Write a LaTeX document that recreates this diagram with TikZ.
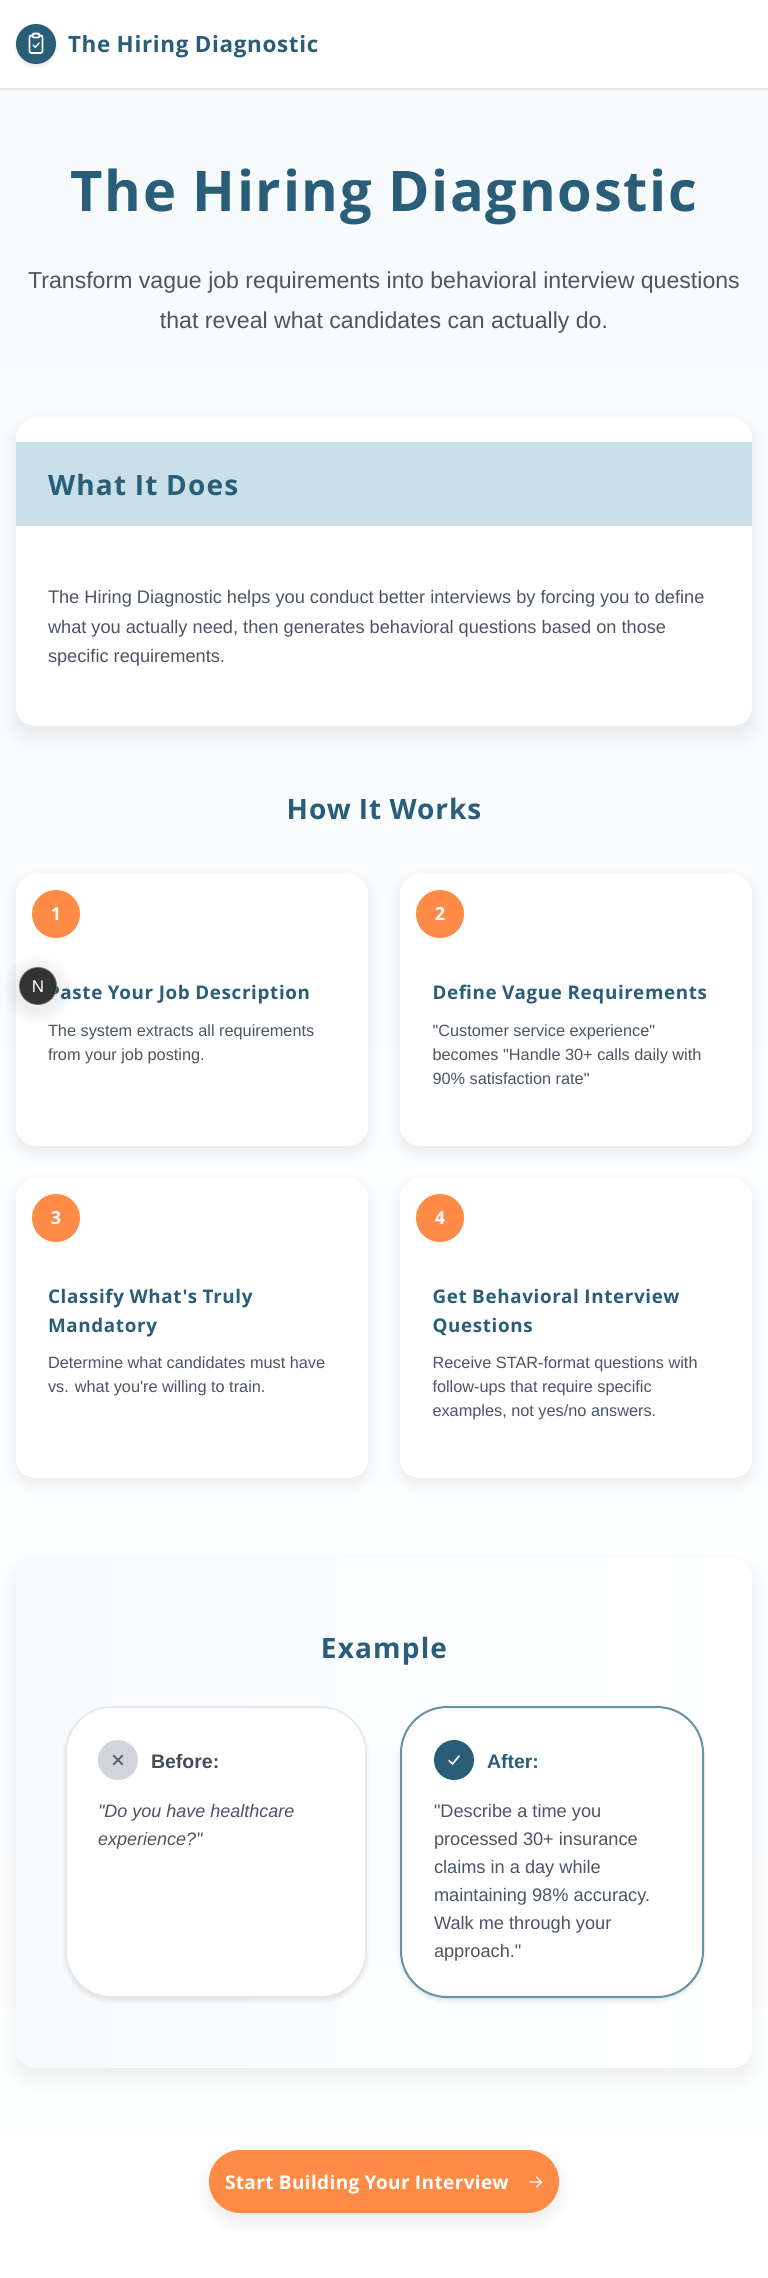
\documentclass[tikz,border=0pt]{standalone}
\usepackage{fontspec}
\setmainfont{Liberation Sans}[Ligatures=TeXOff]
\newfontfamily\hfont{Open Sans}[Ligatures=TeXOff]
\usetikzlibrary{arrows.meta}
\definecolor{teal}{HTML}{2A5D78}
\definecolor{orangeb}{HTML}{FF8B47}
\definecolor{band}{HTML}{C9E0E8}
\definecolor{bodyt}{HTML}{4B5563}
\definecolor{pagebg}{HTML}{F7FBFE}
\definecolor{iconbg}{HTML}{D1D5DB}
\definecolor{softline}{HTML}{E5E7EB}
\definecolor{afterline}{HTML}{6494A8}
\newcommand{\softshadow}[8]{% x1 y1 x2 y2 r dy blur opacity
  \foreach \k in {0,...,9}{
    \pgfmathsetmacro{\e}{#7*(1-\k/4.5)}
    \pgfmathsetmacro{\rr}{max(#5+\e,1)}
    \fill[black,opacity=#8,rounded corners=\rr pt] ({#1-\e},{#2+#6-\e}) rectangle ({#3+\e},{#4+#6+\e});
  }}
\newcommand{\fs}[1]{\fontsize{#1}{#1}\selectfont}
\tikzset{
  txt/.style={inner sep=0pt,outer sep=0pt,anchor=base west},
  ctxt/.style={inner sep=0pt,outer sep=0pt,anchor=base},
  head/.style={txt,text=teal,font=\hfont\bfseries\fs{18.8}\addfontfeature{LetterSpace=3.5}},
  desc/.style={txt,text=bodyt,font=\fs{16.3}},
  big/.style={txt,text=bodyt,font=\fs{18.2}},
  card/.style={fill=white,rounded corners=20pt},
  num/.style={ctxt,text=white,font=\hfont\bfseries\fs{18}},
  ring/.style={fill=orangeb}
}
\begin{document}
\begin{tikzpicture}[x=1pt,y=-1pt]
\useasboundingbox (0,0) rectangle (768,2278);
% page background
\fill[white] (0,0) rectangle (768,2278);
\shade[top color=pagebg,bottom color=white] (0,88) rectangle (768,2278);
% top bar
\foreach \k in {0,...,5}{\fill[black,opacity=0.02] (0,88) rectangle (768,{88+\k*0.7});}
\fill[white] (0,0) rectangle (768,88);
\softshadow{16}{24}{56}{64}{20}{2}{3}{0.012}
\fill[teal] (36,44) circle[radius=20pt];
% clipboard icon
\draw[white,line width=1.7pt,rounded corners=2pt] (31,35.5) -- (29.5,35.5) -- (29.5,53) -- (42.5,53) -- (42.5,35.5) -- (41,35.5);
\draw[white,line width=1.7pt,rounded corners=1pt] (32.5,33.5) rectangle (39.5,37.5);
\draw[white,line width=1.4pt,line cap=round,line join=round] (33,45) -- (35.2,47.2) -- (39.2,43);
\node[txt,text=teal,font=\hfont\bfseries\fs{22.4}\addfontfeature{LetterSpace=3}] (brand) at (68,52) {The Hiring Diagnostic};
% hero
\node[ctxt,text=teal,font=\hfont\bfseries\fs{56}\addfontfeature{LetterSpace=3.1}] (h1) at (384,211) {The Hiring Diagnostic};
\node[ctxt,text=bodyt,font=\fs{23.1}] (sub1) at (384,288) {Transform vague job requirements into behavioral interview questions};
\node[ctxt,text=bodyt,font=\fs{23.1}] (sub2) at (384,328) {that reveal what candidates can actually do.};
% what it does
\softshadow{16}{418}{752}{726}{20}{10}{14}{0.009}
\fill[card] (16,418) rectangle (752,726);
\fill[band] (16,442) rectangle (752,526);
\node[txt,text=teal,font=\hfont\bfseries\fs{28}\addfontfeature{LetterSpace=4.5}] (what) at (48,495) {What It Does};
\node[big] (w1) at (48,603) {The Hiring Diagnostic helps you conduct better interviews by forcing you to define};
\node[big] (w2) at (48,633) {what you actually need, then generates behavioral questions based on those};
\node[big] (w3) at (48,662) {specific requirements.};
% how it works
\node[ctxt,text=teal,font=\hfont\bfseries\fs{28}\addfontfeature{LetterSpace=3.4}] (how) at (384,819) {How It Works};
% step cards
\foreach \xa/\xb/\ya/\yb in {16/368/874/1146,400/752/874/1146,16/368/1178/1478,400/752/1178/1478}{
  \softshadow{\xa}{\ya}{\xb}{\yb}{20}{6}{10}{0.009}
  \fill[card] (\xa,\ya) rectangle (\xb,\yb);
}
\fill[ring] (56,914) circle[radius=24pt];
\node[num] (n1) at (56,920.5) {1};
\fill[ring] (440,914) circle[radius=24pt];
\node[num] (n2) at (440,920.5) {2};
\fill[ring] (56,1218) circle[radius=24pt];
\node[num] (n3) at (56,1224.5) {3};
\fill[ring] (440,1218) circle[radius=24pt];
\node[num] (n4) at (440,1224.5) {4};
\node[head] (t1) at (48,999) {Paste Your Job Description};
\node[desc] (d1a) at (48,1036) {The system extracts all requirements};
\node[desc] (d1b) at (48,1060) {from your job posting.};
\node[head] (t2) at (432.5,999) {Define Vague Requirements};
\node[desc] (d2a) at (432.5,1036) {"Customer service experience"};
\node[desc] (d2b) at (432.5,1060) {becomes "Handle 30+ calls daily with};
\node[desc] (d2c) at (432.5,1084) {90\% satisfaction rate"};
\node[head] (t3a) at (48,1303) {Classify What's Truly};
\node[head] (t3b) at (48,1332) {Mandatory};
\node[desc] (d3a) at (48,1368) {Determine what candidates must have};
\node[desc] (d3b) at (48,1392) {vs. what you're willing to train.};
\node[head] (t4a) at (432.5,1303) {Get Behavioral Interview};
\node[head] (t4b) at (432.5,1332) {Questions};
\node[desc] (d4a) at (432.5,1368) {Receive STAR-format questions with};
\node[desc] (d4b) at (432.5,1392) {follow-ups that require specific};
\node[desc] (d4c) at (432.5,1416) {examples, not yes/no answers.};
% dev badge
\foreach \k in {0,...,7}{\fill[black,opacity=0.008] (38,{990}) circle[radius={(22+\k*2)*1pt}];}
\fill[black!55] (38,986) circle[radius=19pt];
\fill[black!80] (38,986) circle[radius=18pt];
\node[ctxt,text=white,font=\fs{17}] (nb) at (38,992) {N};
% example
\softshadow{16}{1558}{752}{2068}{20}{10}{14}{0.009}
\shade[left color=pagebg,right color=white,rounded corners=20pt] (16,1558) rectangle (752,2068);
\node[ctxt,text=teal,font=\hfont\bfseries\fs{28}\addfontfeature{LetterSpace=4.2}] (ex) at (384,1658) {Example};
\softshadow{66}{1707}{366}{1997}{46}{3}{4}{0.01}
\draw[line width=1.6pt,draw=softline,fill=white,rounded corners=46pt] (66,1707) rectangle (366,1997);
\softshadow{401}{1707}{703}{1997}{46}{3}{4}{0.01}
\draw[line width=2pt,draw=afterline,fill=white,rounded corners=46pt] (401,1707) rectangle (703,1997);
\fill[iconbg] (118,1760) circle[radius=20pt];
\draw[bodyt,line width=1.5pt,line cap=round] (113.5,1755.5) -- (122.5,1764.5) (122.5,1755.5) -- (113.5,1764.5);
\node[txt,text=bodyt!90!black,font=\bfseries\fs{19.5}] (bf) at (151,1768) {Before:};
\node[big,font=\itshape\fs{18}] (b1) at (98,1817) {"Do you have healthcare};
\node[big,font=\itshape\fs{18}] (b2) at (98,1845) {experience?"};
\fill[teal] (454,1760) circle[radius=20pt];
\draw[white,line width=1.7pt,line cap=round,line join=round] (449,1760.5) -- (452.5,1764) -- (459,1756);
\node[txt,text=teal,font=\bfseries\fs{19.5}] (af) at (487,1768) {After:};
\node[big] (a1) at (434,1817) {"Describe a time you};
\node[big] (a2) at (434,1845) {processed 30+ insurance};
\node[big] (a3) at (434,1873) {claims in a day while};
\node[big] (a4) at (434,1901) {maintaining 98\% accuracy.};
\node[big] (a5) at (434,1929) {Walk me through your};
\node[big] (a6) at (434,1957) {approach."};
% button
\softshadow{209}{2150}{559}{2213}{31}{8}{12}{0.009}
\fill[orangeb,rounded corners=31.5pt] (209,2150) rectangle (559,2213);
\node[txt,text=white,font=\hfont\bfseries\fs{19}\addfontfeature{LetterSpace=2}] (cta) at (225,2189) {Start Building Your Interview};
\draw[white,line width=1.1pt,line cap=round,line join=round] (530,2182) -- (541,2182) (536.5,2177) -- (541.5,2182) -- (536.5,2187);
\end{tikzpicture}
\end{document}
